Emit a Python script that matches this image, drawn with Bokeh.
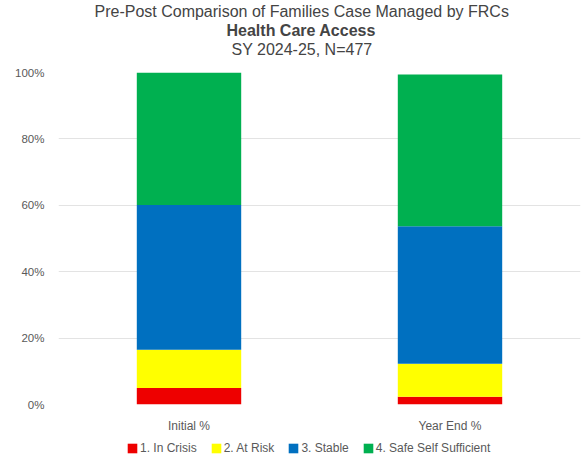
from bokeh.plotting import figure
from bokeh.layouts import column
from bokeh.models import (Range1d, FixedTicker, Legend, LegendItem, Title, ColumnDataSource)
from bokeh.embed import file_html
from bokeh.resources import INLINE

categories = ["Initial %", "Year End %"]
series_names = ["1. In Crisis", "2. At Risk", "3. Stable", "4. Safe Self Sufficient"]
in_crisis = [5.0, 2.3]
at_risk = [11.5, 10.0]
stable = [43.6, 41.4]
safe = [39.9, 45.7]
y_ticks = [0, 20, 40, 60, 80, 100]

colors = ["#EE0000", "#FFFF00", "#0070C0", "#00B050"]
FONT = "Liberation Sans"
stack_cols = ["s1", "s2", "s3", "s4"]

src = ColumnDataSource(dict(cat=categories, s1=in_crisis, s2=at_risk, s3=stable, s4=safe))

# ---- main chart ----
p = figure(x_range=categories, y_range=Range1d(0, 100), width=585, height=435,
           output_backend="svg", toolbar_location=None,
           min_border_left=58, min_border_right=5, min_border_top=72, min_border_bottom=29)

rs = p.vbar_stack(stack_cols, x="cat", width=0.4, source=src, color=colors, line_color=None)

p.yaxis.ticker = FixedTicker(ticks=y_ticks)
# left-aligned look: pad shorter labels with figure spaces (digit width)
p.yaxis.major_label_overrides = {t: f"{t}%".rjust(4, "\u2007") for t in y_ticks}
for ax in (p.xaxis[0], p.yaxis[0]):
    ax.axis_line_color = None
    ax.major_tick_line_color = None
    ax.minor_tick_line_color = None
    ax.major_label_text_font = FONT
    ax.major_label_text_color = "#595959"
    ax.major_label_standoff = 8
p.xaxis.major_label_text_font_size = "12px"
p.yaxis.major_label_text_font_size = "11.5px"
p.xgrid.grid_line_color = None
p.ygrid.grid_line_color = "#E3E3E3"
p.outline_line_color = None

spacer = Title(text=" ", text_font_size="1px", standoff=12)
t3 = Title(text="SY 2024-25, N=477", align="left", offset=173, text_font=FONT,
           text_font_size="16px", text_font_style="normal", standoff=0)
t2 = Title(text="Health Care Access", align="left", offset=168, text_font=FONT,
           text_font_size="16px", text_font_style="bold", standoff=0)
t1 = Title(text="Pre-Post Comparison of Families Case Managed by FRCs", align="left", offset=36,
           text_font=FONT, text_font_size="16px", text_font_style="normal", standoff=0)
for t in (spacer, t3, t2, t1):
    p.add_layout(t, "above")

# ---- legend strip (same series, renderers hidden; only the legend shows) ----
leg = figure(x_range=categories, y_range=Range1d(0, 100), width=585, height=24,
             output_backend="svg", toolbar_location=None,
             x_axis_location=None, y_axis_location=None,
             min_border_left=0, min_border_right=0, min_border_top=0, min_border_bottom=0)
leg.grid.visible = False
leg.outline_line_color = None
lrs = leg.vbar_stack(stack_cols, x="cat", width=0.4, source=src, color=colors, line_color=None)
for r in lrs:
    r.visible = False

legend = Legend(items=[LegendItem(label=n, renderers=[r]) for n, r in zip(series_names, lrs)],
                orientation="horizontal", location=(68, 4), click_policy="none",
                glyph_width=12, glyph_height=12, label_standoff=2, spacing=13,
                padding=0, margin=0, border_line_color=None, background_fill_alpha=0,
                label_text_font=FONT, label_text_font_size="12px", label_text_color="#595959",
                label_height=12)
leg.add_layout(legend, "center")

layout = column(p, leg, spacing=0)
open("out.html", "w").write(file_html(layout, INLINE))
